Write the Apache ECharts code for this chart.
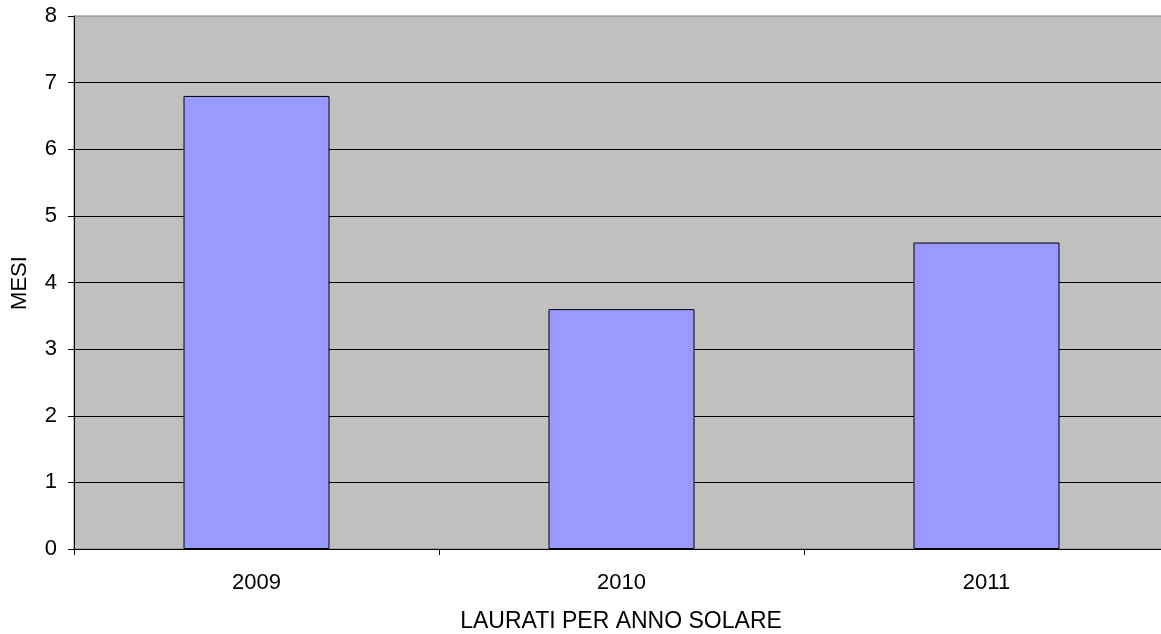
<!DOCTYPE html>
<html>
<head>
<meta charset="utf-8">
<style>html,body{margin:0;padding:0;background:#fff}#c{width:1161px;height:634px}</style>
<script src="https://cdn.jsdelivr.net/npm/echarts@6/dist/echarts.min.js"></script>
</head>
<body>
<div id="c"></div>
<script>
const categories = ['2009', '2010', '2011'];
const values = [6.8, 3.6, 4.6];
const yTicks = [0, 8, 1];
const xTitle = 'LAURATI PER ANNO SOLARE';
const yTitle = 'MESI';

const chart = echarts.init(document.getElementById('c'), null, {renderer: 'canvas'});
const font = 'Liberation Sans, Arial, sans-serif';
chart.setOption({
  animation: false,
  backgroundColor: '#ffffff',
  grid: {
    left: 74, top: 16, width: 1095, height: 533,
    outerBoundsMode: 'none',
    show: true, backgroundColor: '#c0c0c0', borderColor: '#808080', borderWidth: 1
  },
  xAxis: {
    type: 'category',
    data: categories,
    axisLine: {show: true, lineStyle: {color: '#000', width: 1}},
    axisTick: {show: true, length: 6, alignWithLabel: false, lineStyle: {color: '#000'}},
    axisLabel: {color: '#000', fontFamily: font, fontSize: 22, margin: 23}
  },
  yAxis: {
    type: 'value',
    min: yTicks[0], max: yTicks[1], interval: yTicks[2],
    axisLine: {show: true, lineStyle: {color: '#000', width: 1}},
    axisTick: {show: true, length: 6, lineStyle: {color: '#000'}},
    axisLabel: {color: '#000', fontFamily: font, fontSize: 22, margin: 17},
    splitLine: {show: true, showMaxLine: false, lineStyle: {color: '#000', width: 1}}
  },
  series: [{
    type: 'bar',
    data: values,
    barWidth: '40%',
    itemStyle: {color: '#9999ff', borderColor: '#000', borderWidth: 1}
  }],
  graphic: [
    {type: 'text', x: 621, y: 622,
     style: {text: xTitle, font: '23px ' + font, fill: '#000', align: 'center', verticalAlign: 'middle'}},
    {type: 'text', x: 20, y: 283, rotation: Math.PI / 2,
     style: {text: yTitle, font: '22px ' + font, fill: '#000', align: 'center', verticalAlign: 'middle'}}
  ]
});
</script>
</body>
</html>
